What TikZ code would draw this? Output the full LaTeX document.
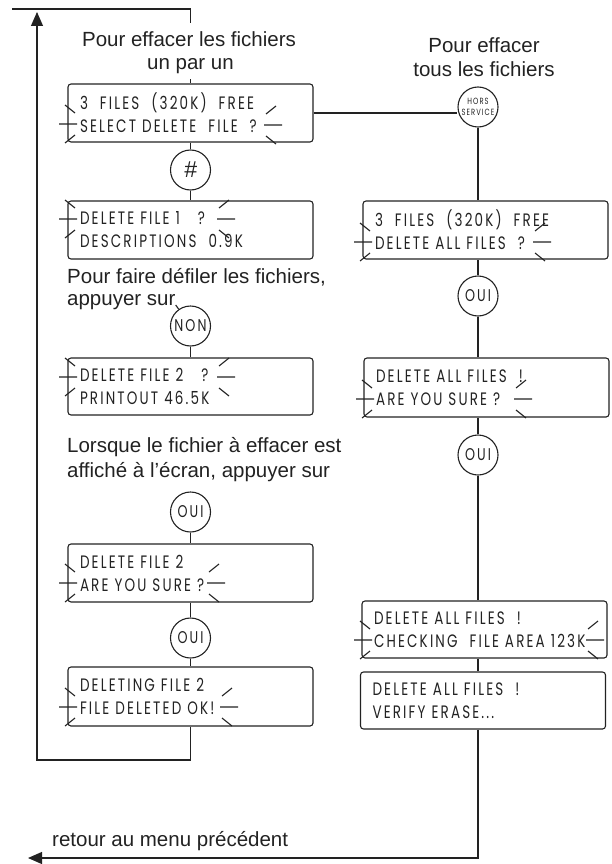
\documentclass[tikz,border=0pt]{standalone}
\usepackage{fontspec}
\setmainfont{Liberation Sans}
\newfontfamily\lcdfont{Poppins}[FakeStretch=0.75,LetterSpace=12]
\usetikzlibrary{arrows.meta}
\definecolor{ink}{HTML}{222222}
\tikzset{
  ln/.style={line width=1.1pt, draw=ink},
  lcdbox/.style={ln, rounded corners=3pt, minimum width=245pt, minimum height=58pt,
    align=left, text width=221pt, inner xsep=12pt, inner ysep=0pt,
    font=\lcdfont\fontsize{18}{23}\selectfont, text=ink},
  key/.style={ln, circle, minimum size=40pt, inner sep=0pt,
    font=\lcdfont\fontsize{17}{17}\selectfont, text=ink},
  head/.style={font=\fontsize{20.5}{24}\selectfont, text=ink, inner sep=0pt},
  tip/.style={-{Triangle[width=12pt,length=14pt]}},
  pics/sparkL/.style={code={\draw[ln] (-9,0)--(9,0) (-3,-19)--(7,-11) (-3,19)--(7,11);}},
}
\begin{document}
\begin{tikzpicture}[x=1pt,y=-1pt]
\useasboundingbox (0,0) rectangle (612,864);

% headings
\node[head, anchor=base] (h1a) at (189,47) {Pour effacer les fichiers};
\node[head, anchor=base] (h1b) at (190.5,70) {un par un};
\node[head, anchor=base] (h2a) at (484,53) {Pour effacer};
\node[head, anchor=base] (h2b) at (484,77) {tous les fichiers};
\node[head, anchor=base west] (t1a) at (67,283) {Pour faire défiler les fichiers,};
\node[head, anchor=base west] (t1b) at (67,305) {appuyer sur};
\node[head, anchor=base west] (t2a) at (67,452) {Lorsque le fichier à effacer est};
\node[head, anchor=base west] (t2b) at (67,477) {affiché à l'écran, appuyer sur};
\node[head, anchor=base west] (t3) at (52,846) {retour au menu précédent};

% left column
\node[lcdbox] (b1) at (190.5,113) {3\ \ FILES\ \ (320K)\ \ FREE\\SELECT DELETE\ \ FILE\ \ ?};
\node[key, font=\fontsize{23}{23}\selectfont\itshape] (hash) at (190.5,170) {\#};
\node[lcdbox] (b2) at (190.5,230) {DELETE FILE 1\ \ \ ?\\DESCRIPTIONS\ \ 0.9K};
\node[key] (non) at (190.5,326) {NON};
\node[lcdbox, minimum height=57pt] (b3) at (190.5,386.5) {DELETE FILE 2\ \ \ ?\\PRINTOUT 46.5K};
\node[key] (oui1) at (190.5,512) {OUI};
\node[lcdbox] (b4) at (190.5,573) {DELETE FILE 2\\ARE YOU SURE ?};
\node[key] (oui2) at (190.5,638) {OUI};
\node[lcdbox, minimum height=59pt] (b5) at (190.5,696.5) {DELETING FILE 2\\FILE DELETED OK!};

% right column
\node[key, font=\lcdfont\fontsize{9}{11}\selectfont, align=center] (hs) at (478,107) {HORS\\SERVICE};
\node[lcdbox] (r1) at (485.5,230) {3\ \ FILES\ \ (320K)\ \ FREE\\DELETE ALL FILES\ \ ?};
\node[key] (ouiR1) at (478,296) {OUI};
\node[lcdbox, minimum height=59pt] (r2) at (486.5,387.5) {DELETE ALL FILES\ \ !\\ARE YOU SURE ?};
\node[key] (ouiR2) at (478,455) {OUI};
\node[lcdbox, minimum height=57pt] (r3) at (484.5,629.5) {DELETE ALL FILES\ \ !\\CHECKING\ \ FILE AREA 123K};
\node[lcdbox, minimum height=57pt] (r4) at (483,700.5) {DELETE ALL FILES\ \ !\\VERIFY ERASE...};

% coordinates for loops
\coordinate (tl) at (12,9);
\coordinate (tr) at (190.5,9);
\coordinate (tt) at (190.5,23);
\coordinate (lb) at (37,760);
\coordinate (la) at (37,12);
\coordinate (br) at (478,858);
\coordinate (bl) at (28,858);

% connectors left
\draw[ln] (tt) -- (tr) -- (tl);
\draw[ln, shorten <=5pt] (h1b.south) -- (b1.north);
\draw[ln] (b1) -- (hash);
\draw[ln] (hash) -- (b2);
\draw[ln] (t1b.base east) -- (non.125);
\draw[ln] (non) -- (b3);
\draw[ln] (oui1) -- (b4);
\draw[ln] (b4) -- (oui2);
\draw[ln] (oui2) -- (b5);
\draw[ln, tip] (b5.south) |- (lb) -- (la);

% connectors right
\draw[ln] (b1.east) -- (hs.west |- b1.east);
\draw[ln] (hs.south) -- (hs.south |- r1.north);
\draw[ln] (ouiR1.north) -- (ouiR1.north |- r1.south);
\draw[ln] (ouiR1.south) -- (ouiR1.south |- r2.north);
\draw[ln] (ouiR2.north) -- (ouiR2.north |- r2.south);
\draw[ln] (ouiR2.south) -- (ouiR2.south |- r3.north);
\draw[ln] (r3.south -| ouiR2) -- (r4.north -| ouiR2);
\draw[ln, tip] (r4.south -| ouiR2) -- (br) -- (bl);

% blinking marks
\pic at (68,124) {sparkL};  \pic[xscale=-1] at (273,125) {sparkL};
\pic at (68,219) {sparkL};  \pic[xscale=-1] at (226,219) {sparkL};
\pic at (68,377) {sparkL};  \pic[xscale=-1] at (226,377) {sparkL};
\pic at (68,583) {sparkL};  \pic[xscale=-1] at (216,583) {sparkL};
\pic at (68,707) {sparkL};  \pic[xscale=-1] at (229,707) {sparkL};
\pic at (363,242) {sparkL}; \pic[xscale=-1] at (542,242) {sparkL};
\pic at (365,399) {sparkL}; \pic[xscale=-1] at (523,399) {sparkL};
\pic at (363,640) {sparkL}; \pic[xscale=-1] at (595,640) {sparkL};
\end{tikzpicture}
\end{document}
